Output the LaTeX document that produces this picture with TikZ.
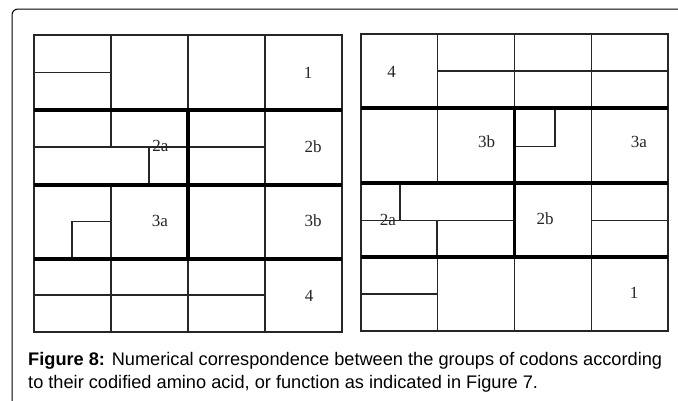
\documentclass[tikz,border=0pt]{standalone}
\usepackage{fontspec}
\setmainfont{Liberation Serif}
\newfontfamily\capfont{Liberation Sans}
\usetikzlibrary{positioning}
\tikzset{
    frame/.style={draw=black, line width=1pt, rounded corners=6pt},
    thinline/.style={draw=black!85, line width=1.1pt},
    thickline/.style={draw=black, line width=3.6pt},
    grp/.style={font=\fontsize{17}{18}\selectfont, inner sep=0pt, text=black!85},
    captext/.style={font=\capfont\fontsize{18.2}{22}\selectfont, inner sep=0pt, anchor=base west},
}

\begin{document}
\begin{tikzpicture}[x=1pt, y=-1pt]
    \useasboundingbox (0,0) rectangle (678,400);
    \fill[white] (0,0) rectangle (678,400);

    % outer panel
    \draw[frame] (12,404) -- (12,9) -- (684,9);

    % ---- left table ----
    \draw[thinline] (34,35) rectangle (342,332);
    \foreach \x in {111,188,265} {
        \draw[thinline] (\x,35) -- (\x,110);
        \draw[thinline] (\x,259) -- (\x,332);
    }
    \draw[thinline] (34,72.5) -- (111,72.5);
    % second band
    \draw[thinline] (111,110) -- (111,147);
    \draw[thinline] (34,147) -- (265,147);
    \draw[thinline] (149,147) -- (149,185);
    \draw[thinline] (265,110) -- (265,259);
    % third band
    \draw[thinline] (111,185) -- (111,259);
    \draw[thinline] (72,259) -- (72,221.5) -- (111,221.5);
    % fourth band
    \draw[thinline] (34,295) -- (265,295);
    % group borders
    \foreach \y in {110,185,259}
        \draw[thickline] (34,\y) -- (342,\y);
    \draw[thickline] (188,110) -- (188,259);

    \node[grp] (l1) at (308,72.5) {1};
    \node[grp] (l2a) at (160.5,146) {2a};
    \node[grp] (l2b) at (313,147) {2b};
    \node[grp] (l3a) at (160,221) {3a};
    \node[grp] (l3b) at (313,221) {3b};
    \node[grp] (l4) at (309,296) {4};

    % ---- right table ----
    \draw[thinline] (361,34) rectangle (668,331);
    \foreach \x in {437.7,514.5,591.2} {
        \draw[thinline] (\x,34) -- (\x,108);
        \draw[thinline] (\x,257) -- (\x,331);
    }
    \draw[thinline] (437.7,71) -- (668,71);
    % second band
    \draw[thinline] (437.7,108) -- (437.7,183);
    \draw[thinline] (555,108) -- (555,146.3) -- (514.5,146.3);
    \draw[thinline] (591.2,108) -- (591.2,257);
    % third band
    \draw[thinline] (400,183) -- (400,220.5);
    \draw[thinline] (361,220.5) -- (514.5,220.5);
    \draw[thinline] (437,220.5) -- (437,257);
    \draw[thinline] (591.2,220.5) -- (668,220.5);
    % fourth band
    \draw[thinline] (361,294) -- (437.7,294);
    % group borders
    \foreach \y in {108,183,257}
        \draw[thickline] (361,\y) -- (668,\y);
    \draw[thickline] (514.5,108) -- (514.5,257);

    \node[grp] (r4) at (391.7,72) {4};
    \node[grp] (r3b) at (486.7,142) {3b};
    \node[grp] (r3a) at (639,142) {3a};
    \node[grp] (r2a) at (388,220) {2a};
    \node[grp] (r2b) at (545,219) {2b};
    \node[grp] (r1) at (634,293) {1};

    % caption
    \node[captext] (cap1) at (28,365) {\textbf{Figure 8:} Numerical correspondence between the groups of codons according};
    \node[captext] (cap2) at (28,388) {to their codified amino acid, or function as indicated in Figure 7.};
\end{tikzpicture}
\end{document}
